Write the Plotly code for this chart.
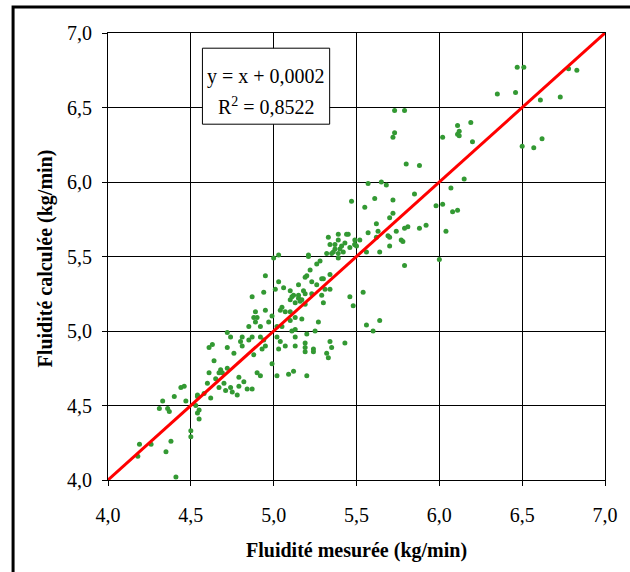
import plotly.graph_objects as go

# Measured fluidity (x) and calculated fluidity (y), kg/min
x_measured = [
    6.47, 6.51, 6.35, 6.46, 6.61, 6.73, 6.78, 6.83, 6.50, 6.57, 6.62,
    5.73, 5.79, 5.73, 5.72, 6.02, 6.11, 6.12, 6.11, 6.12, 6.19, 6.20,
    5.80, 5.88, 6.15, 5.57, 5.65, 5.68, 6.07, 5.47, 5.61, 5.72, 5.85, 5.55, 5.98, 6.02,
    6.08, 6.11, 5.72, 5.70, 5.62, 5.92, 5.88, 5.81, 5.79, 5.74, 5.63, 5.57, 6.04, 5.69,
    5.70, 5.77, 5.78, 5.62, 5.49, 5.52, 5.45, 5.49, 5.46, 5.50, 5.70, 5.56, 5.64, 5.79, 6.00,
    5.64,
    5.54, 5.46, 5.48, 5.56, 5.60, 5.27, 5.17, 5.13, 5.10, 5.11, 5.13, 5.13, 5.20, 5.25,
    5.13, 5.19, 5.19, 5.19, 5.24, 5.24, 5.34, 5.35, 5.43, 5.32, 5.33, 5.12, 5.09, 5.20,
    5.19, 5.20, 5.30, 5.34, 5.23, 5.26, 5.15, 5.18, 5.19, 5.31, 5.34, 5.29, 5.30, 5.12,
    5.15, 5.10, 5.13, 5.16, 5.23, 5.10, 5.22,
    5.33, 5.39, 5.44, 5.34, 5.37, 5.39, 5.43, 5.40, 5.37, 5.32, 5.35, 5.39, 5.42, 5.49,
    5.39, 5.21, 5.21, 5.26, 5.00, 5.03, 5.29,
    4.95, 5.03, 5.01, 5.06, 4.94, 4.87, 5.11, 5.15, 5.17, 5.19, 5.05, 5.04, 5.07, 5.10,
    4.95, 4.89, 4.88, 4.90, 4.89, 4.92, 4.85, 4.87, 4.81, 4.99, 5.02, 5.05, 4.92, 4.94,
    4.95, 4.93, 5.02, 5.04, 5.07, 5.03, 4.85, 4.80, 4.74, 4.72, 4.72, 4.76, 4.81, 4.88,
    4.99, 4.63, 4.61, 4.64, 4.61, 4.68, 4.79, 4.90, 4.92, 5.02,
    4.72, 4.67, 4.69, 4.70, 4.67, 4.74, 4.79, 4.75, 4.84, 4.87, 4.60, 4.54, 4.54, 4.55,
    4.50, 4.50, 4.44, 4.46, 4.40, 4.33, 4.31, 4.36, 4.37, 4.47, 4.35, 4.38, 4.41, 4.19,
    4.18, 4.26, 4.53, 4.55, 4.54,
    4.78, 4.82, 4.71, 4.65, 4.58, 4.62, 4.97, 5.36, 5.41, 5.28,
]
y_calculated = [
    6.77, 6.77, 6.59, 6.60, 6.55, 6.57, 6.76, 6.75, 6.24, 6.23, 6.29,
    6.48, 6.48, 6.33, 6.30, 6.30, 6.38, 6.34, 6.32, 6.31, 6.40, 6.27,
    6.12, 6.11, 6.02, 5.99, 6.00, 5.98, 5.96, 5.87, 5.89, 5.88, 5.92, 5.83, 5.84, 5.85,
    5.80, 5.81, 5.79, 5.76, 5.72, 5.71, 5.69, 5.70, 5.69, 5.67, 5.67, 5.66, 5.67, 5.64,
    5.63, 5.61, 5.60, 5.63, 5.61, 5.61, 5.65, 5.58, 5.56, 5.57, 5.57, 5.53, 5.53, 5.44, 5.48,
    5.07,
    5.26, 5.23, 5.17, 5.04, 5.00, 5.06, 5.08, 5.09, 5.07, 5.00, 5.01, 4.96, 4.98, 5.00,
    4.90, 4.92, 4.89, 4.86, 4.88, 4.86, 4.93, 4.89, 4.92, 4.85, 4.82, 4.73, 4.71, 4.70,
    5.36, 5.37, 5.35, 5.38, 5.33, 5.31, 5.31, 5.27, 5.25, 5.28, 5.28, 5.24, 5.19, 5.24,
    5.24, 5.21, 5.19, 5.20, 5.25, 5.27, 5.41,
    5.63, 5.65, 5.65, 5.58, 5.58, 5.61, 5.59, 5.55, 5.55, 5.52, 5.52, 5.52, 5.53, 5.58,
    5.49, 5.51, 5.50, 5.45, 5.49, 5.51, 5.35,
    5.37, 5.33, 5.28, 5.29, 5.26, 5.23, 5.23, 5.22, 5.21, 5.18, 5.16, 5.14, 5.13, 5.13,
    5.14, 5.13, 5.09, 5.09, 5.06, 5.03, 5.03, 4.96, 4.96, 5.10, 5.03, 5.03, 4.96, 4.94,
    4.90, 4.88, 4.96, 4.93, 4.90, 4.88, 4.94, 4.93, 4.96, 4.99, 4.89, 4.85, 4.90, 4.84,
    4.78, 4.91, 4.89, 4.80, 4.72, 4.74, 4.69, 4.72, 4.70, 4.70,
    4.75, 4.72, 4.72, 4.65, 4.62, 4.62, 4.63, 4.59, 4.61, 4.61, 4.65, 4.57, 4.45, 4.41,
    4.33, 4.29, 4.62, 4.63, 4.56, 4.53, 4.48, 4.48, 4.46, 4.53, 4.19, 4.26, 4.02, 4.24,
    4.16, 4.24, 4.50, 4.47, 4.56,
    4.57, 4.66, 4.60, 4.68, 4.58, 4.55, 5.06, 5.53, 5.57, 5.47,
]

# Regression line y = x + 0,0002
fit_slope = 1.0
fit_intercept = 0.0002
fit_x = [4.0, 7.0]
fit_y = [fit_slope * v + fit_intercept for v in fit_x]

tick_values = [4.0, 4.5, 5.0, 5.5, 6.0, 6.5, 7.0]
tick_labels = ["4,0", "4,5", "5,0", "5,5", "6,0", "6,5", "7,0"]

equation_line = "y = x + 0,0002"
r2_line = "R<sup>2</sup> = 0,8522"
x_title = "Fluidité mesurée (kg/min)"
y_title = "Fluidité calculée (kg/min)"

FONT = "Liberation Serif, Times New Roman, serif"

fig = go.Figure()
fig.add_trace(go.Scatter(
    x=x_measured, y=y_calculated, mode="markers",
    marker=dict(color="#339933", size=5, line=dict(width=0)),
    showlegend=False,
))
fig.add_trace(go.Scatter(
    x=fit_x, y=fit_y, mode="lines",
    line=dict(color="#ff0000", width=3),
    showlegend=False,
))

axis_common = dict(
    range=[4.0, 7.0],
    tickvals=tick_values,
    ticktext=tick_labels,
    showgrid=True, gridcolor="#000000", gridwidth=1,
    showline=True, linecolor="#000000", linewidth=1, mirror=True,
    ticks="outside", ticklen=5, tickcolor="#000000", tickwidth=1,
    zeroline=False,
    tickfont=dict(family=FONT, size=20, color="#000000"),
)

fig.update_xaxes(**axis_common, ticklabelstandoff=12)
fig.update_yaxes(**axis_common, ticklabelstandoff=6)

fig.update_layout(
    width=630, height=572,
    margin=dict(l=108, r=22, t=33, b=92),
    paper_bgcolor="#ffffff", plot_bgcolor="#ffffff",
    font=dict(family=FONT, color="#000000"),
    shapes=[
        # outer frame
        dict(type="rect", xref="paper", yref="paper",
             x0=-0.191, x1=1.3, y0=-0.4, y1=1.0582,
             line=dict(color="#000000", width=3), fillcolor="rgba(0,0,0,0)", layer="above"),
        # equation box
        dict(type="rect", xref="paper", yref="paper",
             x0=0.19, x1=0.446, y0=0.796, y1=0.966,
             line=dict(color="#000000", width=1), fillcolor="#ffffff", layer="above"),
    ],
    annotations=[
        dict(text=equation_line, xref="paper", yref="paper", x=0.318, y=(480 - 76) / 447,
             xanchor="center", yanchor="middle", showarrow=False,
             font=dict(family=FONT, size=20, color="#000000")),
        dict(text=r2_line, xref="paper", yref="paper", x=0.318, y=(480 - 106) / 447,
             xanchor="center", yanchor="middle", showarrow=False,
             font=dict(family=FONT, size=20, color="#000000")),
        dict(text="<b>" + x_title + "</b>", xref="paper", yref="paper", x=0.5,
             y=(480 - 550) / 447, xanchor="center", yanchor="middle", showarrow=False,
             font=dict(family=FONT, size=20, color="#000000")),
        dict(text="<b>" + y_title + "</b>", xref="paper", yref="paper", x=(45 - 108) / 500,
             y=(480 - 258) / 447, xanchor="center", yanchor="middle", showarrow=False,
             textangle=-90, font=dict(family=FONT, size=20, color="#000000")),
    ],
)

fig.write_html("out.html")
